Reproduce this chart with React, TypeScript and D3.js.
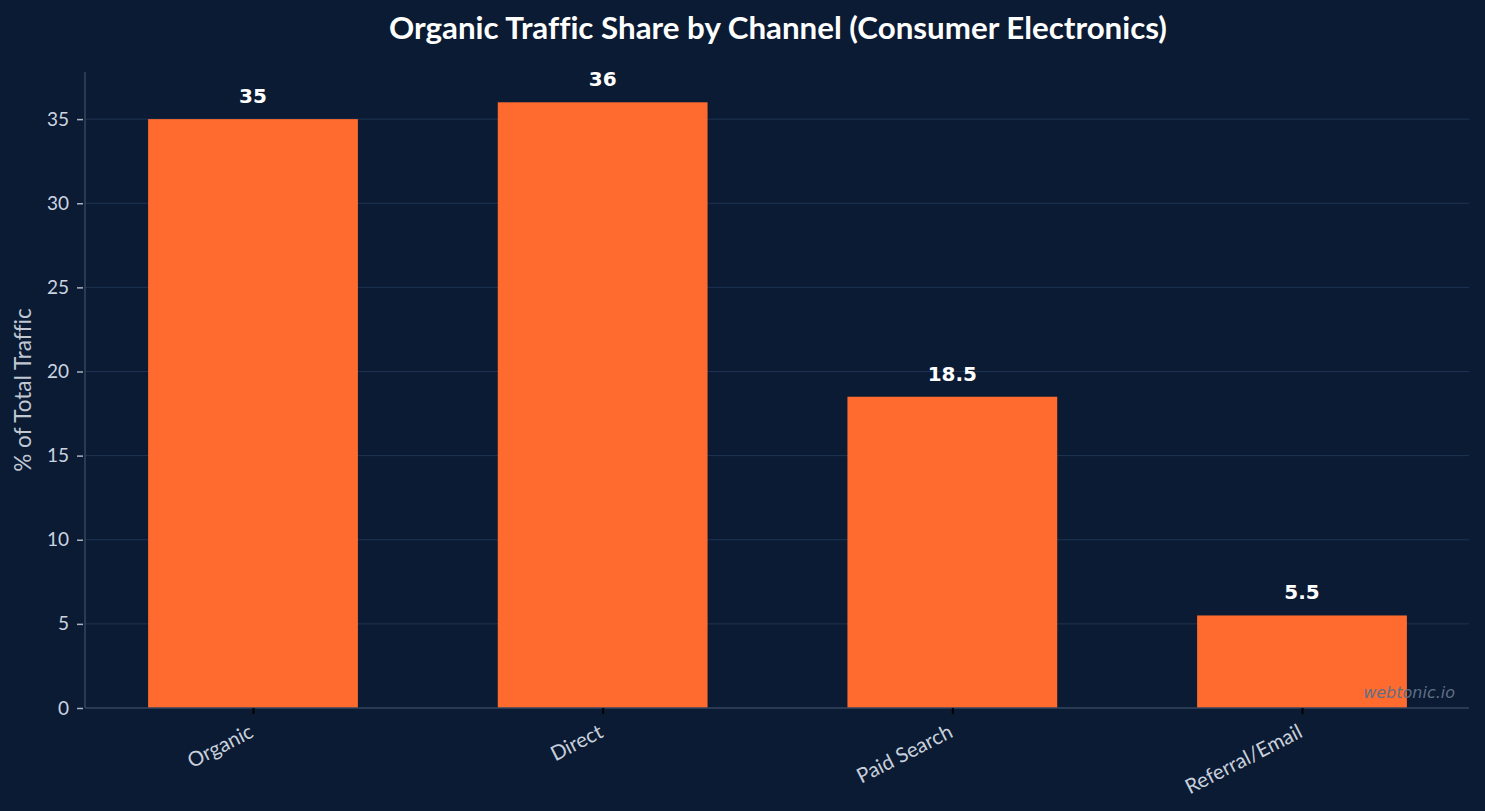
import React, { useEffect, useRef } from 'react';
import * as d3 from 'd3';

const channels = ['Organic', 'Direct', 'Paid Search', 'Referral/Email'];
const shares = [35, 36, 18.5, 5.5];
const yTicks = [0, 5, 10, 15, 20, 25, 30, 35];

const W = 1485;
const H = 811;

function App() {
  const ref = useRef<SVGSVGElement | null>(null);

  useEffect(() => {
    const svg = d3.select(ref.current);
    svg.selectAll('*').remove();
    svg.style('font-variant-ligatures', 'none').style('font-feature-settings', '"liga" 0');

    const left = 85;
    const right = 1469;
    const top = 72;
    const bottom = 708;

    svg.append('rect').attr('width', W).attr('height', H).attr('fill', '#0b1b33');

    // category positions sit inside the axis span with a little padding on each side
    const x = d3.scalePoint<string>().domain(channels).range([253, 1302]);
    const barW = x.step() * 0.6;
    const y = d3.scaleLinear().domain([0, 37.8]).range([bottom, top]);

    // grid
    svg
      .append('g')
      .selectAll('line')
      .data(yTicks.filter((t) => t > 0))
      .enter()
      .append('line')
      .attr('x1', left)
      .attr('x2', right)
      .attr('y1', (d) => y(d))
      .attr('y2', (d) => y(d))
      .attr('stroke', '#1e3452')
      .attr('stroke-width', 1);

    // bars
    svg
      .append('g')
      .selectAll('rect')
      .data(shares)
      .enter()
      .append('rect')
      .attr('x', (d, i) => (x(channels[i]) as number) - barW / 2)
      .attr('y', (d) => y(d))
      .attr('width', barW)
      .attr('height', (d) => y(0) - y(d))
      .attr('fill', '#ff6b2e');

    // value labels
    svg
      .append('g')
      .selectAll('text')
      .data(shares)
      .enter()
      .append('text')
      .attr('x', (d, i) => x(channels[i]) as number)
      .attr('y', (d) => y(d) - 16)
      .attr('text-anchor', 'middle')
      .attr('font-family', 'DejaVu Sans')
      .attr('font-weight', 'bold')
      .attr('font-size', 20)
      .attr('fill', '#ffffff')
      .text((d) => String(d));

    // y axis
    const yAxis = svg
      .append('g')
      .attr('transform', `translate(${left},0)`)
      .call(d3.axisLeft(y).tickValues(yTicks).tickSize(6).tickPadding(8).tickFormat(d3.format('d')));
    yAxis.select('.domain').remove();
    yAxis.selectAll('.tick line').attr('stroke', '#aab4c4').attr('stroke-width', 1.5).attr('transform', 'translate(-2,0)');
    yAxis
      .selectAll('.tick text')
      .attr('fill', '#ccd4e0')
      .attr('font-family', 'Lato')
      .attr('font-size', 19)
      .attr('x', -16);

    svg
      .append('line')
      .attr('x1', left)
      .attr('x2', left)
      .attr('y1', top)
      .attr('y2', bottom)
      .attr('stroke', '#36465e')
      .attr('stroke-width', 1.5);

    // x axis
    svg
      .append('line')
      .attr('x1', left)
      .attr('x2', right)
      .attr('y1', bottom)
      .attr('y2', bottom)
      .attr('stroke', '#36465e')
      .attr('stroke-width', 1.5);

    const xAxis = svg
      .append('g')
      .attr('transform', `translate(0,${bottom})`)
      .call(d3.axisBottom(x).tickSize(6).tickPadding(10));
    xAxis.select('.domain').remove();
    xAxis.selectAll('.tick line').attr('stroke', '#000000').attr('stroke-width', 2);
    xAxis
      .selectAll('.tick text')
      .attr('fill', '#c8d0dc')
      .attr('font-family', 'Lato')
      .attr('font-size', 20.5)
      .attr('text-anchor', 'end')
      .attr('dy', '0.35em')
      .attr('transform', 'translate(-2,22) rotate(-27)')
      .attr('y', 0)
      .attr('x', 0);

    // y axis title
    svg
      .append('text')
      .attr('transform', `translate(31,${(top + bottom) / 2}) rotate(-90)`)
      .attr('text-anchor', 'middle')
      .attr('font-family', 'Lato')
      .attr('font-size', 22.5)
      .attr('fill', '#c0c8d4')
      .text('% of Total Traffic');

    // title
    svg
      .append('text')
      .attr('x', 778)
      .attr('y', 39)
      .attr('text-anchor', 'middle')
      .attr('font-family', 'Lato')
      .attr('font-weight', 'bold')
      .attr('font-size', 31.3)
      .attr('fill', '#ffffff')
      .text('Organic Traffic Share by Channel (Consumer Electronics)');

    // watermark
    svg
      .append('text')
      .attr('x', 1455)
      .attr('y', 698)
      .attr('text-anchor', 'end')
      .attr('font-family', 'DejaVu Sans')
      .attr('font-style', 'italic')
      .attr('font-size', 16)
      .attr('fill', '#5f6f86')
      .text('webtonic.io');
  }, []);

  return (
    <svg
      ref={ref}
      width={W}
      height={H}
      style={{ position: 'absolute', left: 0, top: 0, display: 'block' }}
    />
  );
}

export default App;
